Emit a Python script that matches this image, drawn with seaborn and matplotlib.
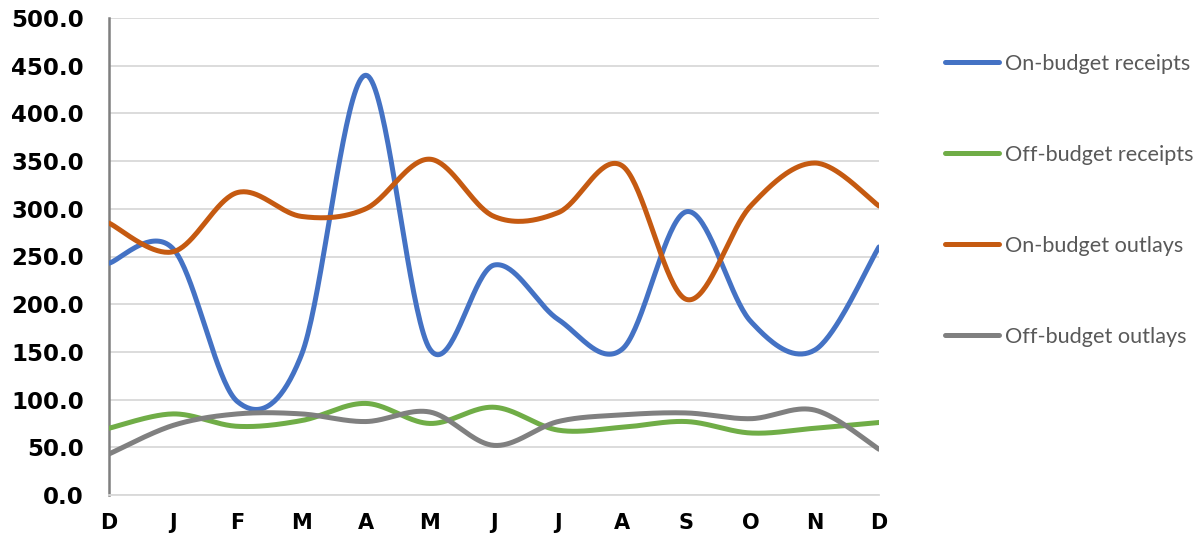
import numpy as np
import pandas as pd
import matplotlib
matplotlib.use("Agg")
import matplotlib.pyplot as plt
import seaborn as sns

months = ["D", "J", "F", "M", "A", "M", "J", "J", "A", "S", "O", "N", "D"]
on_budget_receipts = [243, 258, 98, 147, 440, 153, 241, 184, 153, 297, 182, 152, 260]
off_budget_receipts = [70, 85, 72, 78, 96, 75, 92, 68, 71, 77, 65, 70, 76]
on_budget_outlays = [285, 255, 317, 292, 300, 352, 292, 296, 345, 205, 303, 348, 303]
off_budget_outlays = [43, 73, 85, 85, 77, 87, 52, 77, 84, 86, 80, 89, 48]

series_names = ["On-budget receipts", "Off-budget receipts",
                "On-budget outlays", "Off-budget outlays"]
series_values = [on_budget_receipts, off_budget_receipts,
                 on_budget_outlays, off_budget_outlays]
colors = ["#4472C4", "#70AD47", "#C55A11", "#808080"]


def smooth(values, steps=40):
    """Bezier smoothing through every point (Catmull-Rom style control points)."""
    y = np.asarray(values, dtype=float)
    x = np.arange(len(y), dtype=float)
    pts = np.column_stack([x, y])
    ext = np.vstack([pts[0], pts, pts[-1]])
    out = []
    t = np.linspace(0, 1, steps, endpoint=False)[:, None]
    for i in range(len(pts) - 1):
        p0, p1, p2, p3 = ext[i], ext[i + 1], ext[i + 2], ext[i + 3]
        b0 = p1
        b1 = p1 + (p2 - p0) / 6.0
        b2 = p2 - (p3 - p1) / 6.0
        b3 = p2
        seg = ((1 - t) ** 3) * b0 + 3 * ((1 - t) ** 2) * t * b1 \
            + 3 * (1 - t) * t ** 2 * b2 + t ** 3 * b3
        out.append(seg)
    out.append(pts[-1][None, :])
    return np.vstack(out)


frames = []
for name, vals in zip(series_names, series_values):
    curve = smooth(vals)
    frames.append(pd.DataFrame({"x": curve[:, 0], "value": curve[:, 1], "series": name}))
df = pd.concat(frames, ignore_index=True)

sns.set_style("white")
plt.rcParams["font.family"] = ["DejaVu Sans"]

fig = plt.figure(figsize=(11.99, 5.37), dpi=100)
ax = fig.add_axes([109 / 1199, 1 - 495 / 537, (879 - 109) / 1199, (495 - 18) / 537])

sns.lineplot(data=df, x="x", y="value", hue="series", hue_order=series_names,
             palette=colors, sort=False, estimator=None, linewidth=3.6,
             ax=ax, legend=False, zorder=3)

ax.set_xlim(0, len(months) - 1)
ax.set_ylim(0, 500)
ax.set_yticks(np.arange(0, 501, 50))
ax.set_yticklabels([f"{v:.1f}" for v in np.arange(0, 501, 50)],
                   fontsize=16.5, fontweight="bold", color="black")
ax.set_xticks(range(len(months)))
ax.set_xticklabels(months, fontsize=15, fontweight="bold", color="black")
ax.set_xlabel("")
ax.set_ylabel("")

ax.grid(axis="y", color="#D9D9D9", linewidth=1.3, zorder=0)
ax.grid(axis="x", visible=False)
for side in ["top", "right"]:
    ax.spines[side].set_visible(False)
ax.spines["left"].set_color("#7F7F7F")
ax.spines["left"].set_linewidth(1.8)
ax.spines["bottom"].set_color("#D9D9D9")
ax.spines["bottom"].set_linewidth(1.3)
ax.tick_params(axis="y", direction="in", length=6, width=1.3, color="#7F7F7F", pad=18)
ax.tick_params(axis="x", direction="in", length=6, width=1.3, color="#D9D9D9", pad=13)

handles = [plt.Line2D([], [], color=c, linewidth=3.6, solid_capstyle="round") for c in colors]
leg = fig.legend(handles, series_names, loc="upper left",
                 bbox_to_anchor=(945 / 1199, 1 - 54 / 537),
                 frameon=False, prop={"family": "Lato", "size": 15.6},
                 handlelength=2.5, handletextpad=0.27, labelspacing=3.27,
                 borderaxespad=0, borderpad=0)
for text in leg.get_texts():
    text.set_color("#595959")

fig.savefig("out.png", dpi=100, facecolor="white")
